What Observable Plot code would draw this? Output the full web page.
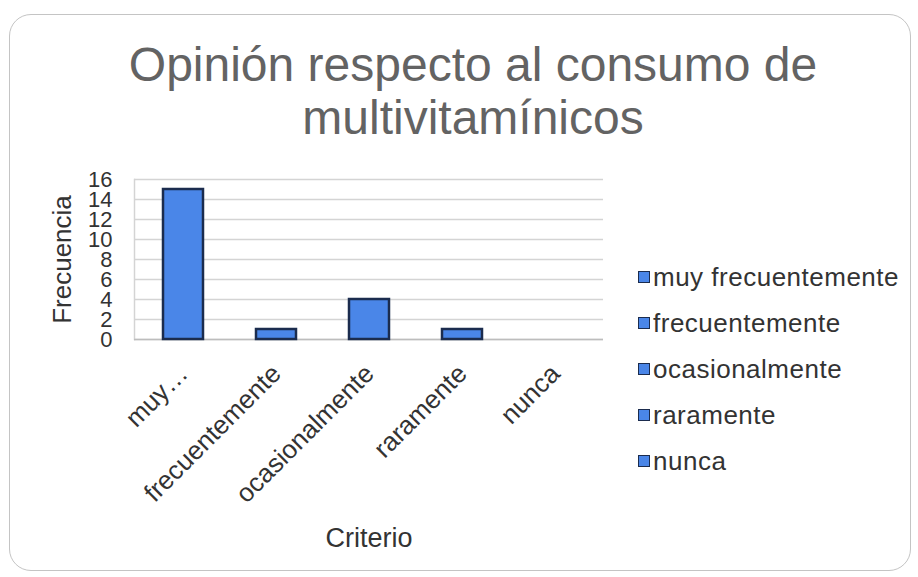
<!DOCTYPE html>
<html>
<head>
<meta charset="utf-8">
<script src="https://cdn.jsdelivr.net/npm/d3@7"></script>
<script src="https://cdn.jsdelivr.net/npm/@observablehq/plot@0.6"></script>
<style>
  html, body { margin: 0; padding: 0; background: #ffffff; }
  #wrap { position: relative; width: 918px; height: 577px; overflow: hidden; font-family: "Liberation Sans", Arial, sans-serif; }
  #frame { position: absolute; left: 9px; top: 14px; width: 902px; height: 557px; border: 1.5px solid #c4c4c4; border-radius: 22px; box-sizing: border-box; }
  #title { position: absolute; left: 0; top: 38px; width: 946px; text-align: center; font-size: 48px; line-height: 53px; color: #636363; }
  #chart { position: absolute; left: 0; top: 0; }
  #legend { position: absolute; left: 638px; top: 254px; font-size: 26px; letter-spacing: 0.5px; color: #333; }
  .item { height: 46px; display: flex; align-items: center; }
  .sw { width: 10px; height: 10px; background: #4a86e8; border: 1.5px solid #1b2c4e; margin-right: 3px; }
</style>
</head>
<body>
<div id="wrap">
  <div id="frame"></div>
  <div id="chart"></div>
  <div id="title">Opinión respecto al consumo de<br>multivitamínicos</div>
  <div id="legend"></div>
</div>
<script>
const categories = ["muy frecuentemente", "frecuentemente", "ocasionalmente", "raramente", "nunca"];
const tickLabels = ["muy…", "frecuentemente", "ocasionalmente", "raramente", "nunca"];
const values = [15, 1, 4, 1, 0];
const yTicks = [0, 2, 4, 6, 8, 10, 12, 14, 16];
const xTitle = "Criterio";
const yTitle = "Frecuencia";
const barColor = "#4a86e8";
const barStroke = "#1b2c4e";

const data = categories.map((c, i) => ({ c, v: values[i] }));

const chart = Plot.plot({
  width: 918,
  height: 577,
  marginLeft: 134,
  marginRight: 315,
  marginTop: 179,
  marginBottom: 238,
  style: { fontFamily: "'Liberation Sans', Arial, sans-serif", background: "transparent", color: "#333" },
  x: { domain: categories, paddingInner: 0.57, paddingOuter: 0.285, label: null },
  y: { domain: [0, 16], ticks: yTicks, label: null },
  marks: [
    Plot.gridY(yTicks, { stroke: "#d4d4d4", strokeOpacity: 1, strokeWidth: 1.5 }),
    Plot.frame({ anchor: "left", stroke: "#d4d4d4", strokeWidth: 1.5 }),
    Plot.ruleY([0], { stroke: "#bdbdbd", strokeWidth: 1.5 }),
    Plot.barY(data, { x: "c", y: "v", fill: barColor, stroke: barStroke, strokeWidth: 2.5 }),
    Plot.axisY(yTicks, { tickSize: 0, tickPadding: 22, fontSize: 22, fill: "#333", label: null }),
    Plot.axisX({ tickSize: 0, tickPadding: 30, tickRotate: -45, fontSize: 26, fill: "#333", label: null,
      tickFormat: d => tickLabels[categories.indexOf(d)] }),
    Plot.text([xTitle], { frameAnchor: "bottom", dy: 207, fontSize: 27, fill: "#333" }),
    Plot.text([yTitle], { frameAnchor: "left", textAnchor: "middle", rotate: -90, dx: -72, fontSize: 26, fill: "#333" })
  ]
});
document.getElementById("chart").appendChild(chart);

const legend = document.getElementById("legend");
categories.forEach(c => {
  const it = document.createElement("div");
  it.className = "item";
  const sw = document.createElement("div");
  sw.className = "sw";
  const t = document.createElement("span");
  t.textContent = c;
  it.appendChild(sw);
  it.appendChild(t);
  legend.appendChild(it);
});
</script>
</body>
</html>
